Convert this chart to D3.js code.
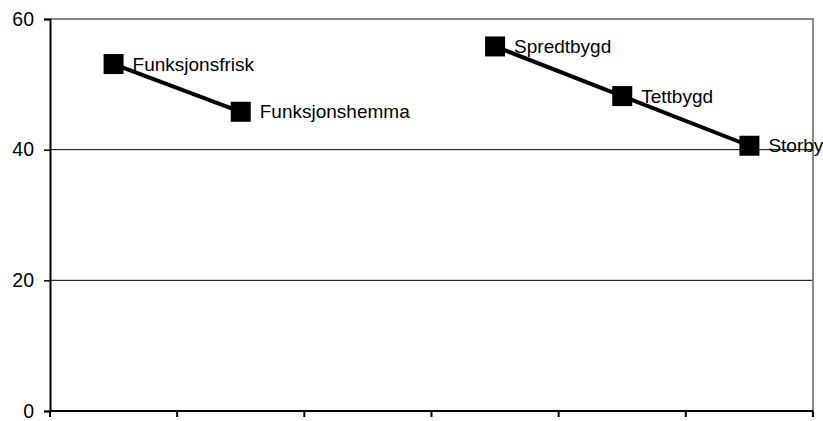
<!DOCTYPE html>
<html>
<head>
<meta charset="utf-8">
<script src="https://cdn.jsdelivr.net/npm/d3@7"></script>
<style>
  body { margin: 0; background: white; }
  text { font-family: "Liberation Sans", Arial, sans-serif; }
</style>
</head>
<body>
<div id="chart"></div>
<script>
// data
var categories = ["Funksjonsfrisk", "Funksjonshemma", "", "Spredtbygd", "Tettbygd", "Storby"];
var groupA = ["Funksjonsfrisk", "Funksjonshemma"];
var groupAValues = [53.1, 45.8];
var groupB = ["Spredtbygd", "Tettbygd", "Storby"];
var groupBValues = [55.8, 48.2, 40.6];
var yTicks = [0, 20, 40, 60];

var svgWidth = 823;
var svgHeight = 421;
var margin = { top: 19, right: 10, bottom: 10, left: 50 };
var width = svgWidth - margin.left - margin.right;
var height = svgHeight - margin.top - margin.bottom;

var svg = d3.select("#chart")
  .append("svg")
  .attr("width", svgWidth)
  .attr("height", svgHeight)
  .style("background-color", "white");

var chartGroup = svg.append("g")
  .attr("transform", `translate(${margin.left}, ${margin.top})`);

// x: one band per category (index keeps the empty slot unique)
var xScale = d3.scaleBand()
  .domain(d3.range(categories.length))
  .range([0, width]);

var yScale = d3.scaleLinear()
  .domain([0, 60])
  .range([height, 0]);

// gridlines at 20 and 40
chartGroup.selectAll(".grid")
  .data(yTicks.filter(d => d > 0 && d < 60))
  .enter()
  .append("line")
  .attr("x1", 0)
  .attr("x2", width)
  .attr("y1", d => yScale(d))
  .attr("y2", d => yScale(d))
  .attr("stroke", "black")
  .attr("stroke-width", 1);

// grey frame on top and right
chartGroup.append("path")
  .attr("d", `M0,${yScale(60)}H${width}V${height}`)
  .attr("fill", "none")
  .attr("stroke", "#888")
  .attr("stroke-width", 2);

// y axis
var leftAxis = d3.axisLeft(yScale)
  .tickValues(yTicks)
  .tickSize(6)
  .tickPadding(10);

var yAxis = chartGroup.append("g").call(leftAxis);
yAxis.select(".domain").attr("stroke", "black").attr("stroke-width", 2);
yAxis.selectAll(".tick line").attr("stroke", "black").attr("stroke-width", 1.5);
yAxis.selectAll("text")
  .style("font-size", "19.5px")
  .attr("fill", "black");

// x axis: ticks at band edges, no labels
var edges = d3.range(categories.length + 1).map(i => i * xScale.step());
chartGroup.append("line")
  .attr("x1", 0)
  .attr("x2", width)
  .attr("y1", height)
  .attr("y2", height)
  .attr("stroke", "black")
  .attr("stroke-width", 2);

chartGroup.selectAll(".xtick")
  .data(edges)
  .enter()
  .append("line")
  .attr("x1", d => d)
  .attr("x2", d => d)
  .attr("y1", height)
  .attr("y2", height + 6)
  .attr("stroke", "black")
  .attr("stroke-width", 2);

// build points for the two series
function toPoints(names, values) {
  return names.map((n, i) => ({ name: n, value: values[i], idx: categories.indexOf(n) }));
}
var series = [toPoints(groupA, groupAValues), toPoints(groupB, groupBValues)];

var line = d3.line()
  .x(d => xScale(d.idx) + xScale.bandwidth() / 2)
  .y(d => yScale(d.value));

chartGroup.selectAll(".series")
  .data(series)
  .enter()
  .append("path")
  .attr("d", line)
  .attr("fill", "none")
  .attr("stroke", "black")
  .attr("stroke-width", 4);

var allPoints = series.flat();

chartGroup.selectAll(".marker")
  .data(allPoints)
  .enter()
  .append("rect")
  .attr("x", d => xScale(d.idx) + xScale.bandwidth() / 2 - 10)
  .attr("y", d => yScale(d.value) - 10)
  .attr("width", 20)
  .attr("height", 20)
  .attr("fill", "black");

chartGroup.selectAll(".plabel")
  .data(allPoints)
  .enter()
  .append("text")
  .attr("x", d => xScale(d.idx) + xScale.bandwidth() / 2 + 19)
  .attr("y", d => yScale(d.value))
  .attr("dy", "0.35em")
  .style("font-size", "19px")
  .attr("fill", "black")
  .text(d => d.name);
</script>
</body>
</html>
